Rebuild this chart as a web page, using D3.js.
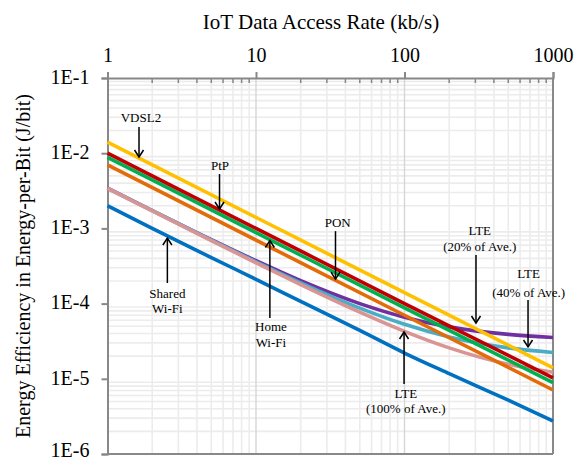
<!DOCTYPE html>
<html>
<head>
<meta charset="utf-8">
<script src="https://cdn.jsdelivr.net/npm/d3@7"></script>
<style>
  html, body { margin: 0; padding: 0; background: #fff; }
  svg { display: block; }
  text { font-family: "Liberation Serif", "DejaVu Serif", serif; fill: #000; }
</style>
</head>
<body>
<svg id="chart" width="577" height="461"></svg>
<script>
// ---------- data ----------
const xTickValues = [1, 10, 100, 1000];
const xTickLabels = ["1", "10", "100", "1000"];
const yTickValues = [1e-1, 1e-2, 1e-3, 1e-4, 1e-5, 1e-6];
const yTickLabels = ["1E-1", "1E-2", "1E-3", "1E-4", "1E-5", "1E-6"];

const ratesStraight = [1, 10, 100, 1000];
const vdsl2  = [1.40e-2, 1.40e-3, 1.40e-4, 1.40e-5];
const ptp    = [1.00e-2, 1.00e-3, 1.00e-4, 1.03e-5];
const homeWifi = [8.8e-3, 8.8e-4, 8.8e-5, 8.9e-6];
const pon    = [7.0e-3, 7.0e-4, 7.0e-5, 7.1e-6];

const ratesCurve = [1, 2, 5, 10, 20, 50, 100, 200, 500, 1000];
const lte20  = [3.43e-3, 1.73e-3, 7.1e-4, 3.72e-4, 2.02e-4, 1.0e-4, 6.6e-5, 4.9e-5, 3.9e-5, 3.55e-5];
const lte40  = [3.42e-3, 1.72e-3, 6.99e-4, 3.59e-4, 1.89e-4, 8.7e-5, 5.3e-5, 3.6e-5, 2.58e-5, 2.24e-5];
const lte100 = [3.41e-3, 1.71e-3, 6.89e-4, 3.49e-4, 1.79e-4, 7.7e-5, 4.28e-5, 2.58e-5, 1.56e-5, 1.22e-5];
const sharedWifi = [2.0e-3, 1.0e-3, 4.1e-4, 2.1e-4, 1.07e-4, 4.4e-5, 2.2e-5, 1.17e-5, 5.2e-6, 2.75e-6];

const seriesNames  = ["LTE 20%", "LTE 40%", "LTE 100%", "Shared Wi-Fi", "PON", "Home Wi-Fi", "PtP", "VDSL2"];
const seriesColors = ["#7030A0", "#4BACC6", "#D99594", "#0070C0", "#E36C09", "#00B050", "#C00000", "#FFC000"];

// annotations: arrow x (rate), tip value, tail value, label lines and baselines (values)
const annotations = [
  { rate: 1.63, labelRate: 1.68, tip: 8.9e-3, tail: 2.23e-2, lines: ["VDSL2"], base: [2.6e-2] },
  { rate: 5.68, labelRate: 5.72, tip: 1.81e-3, tail: 5.28e-3, lines: ["PtP"], base: [5.98e-3] },
  { rate: 34.3, labelRate: 35.5, tip: 2.12e-4, tail: 9.2e-4, lines: ["PON"], base: [1.03e-3] },
  { rate: 2.53, labelRate: 2.53, tip: 7.45e-4, tail: 1.88e-4, lines: ["Shared", "Wi-Fi"], base: [1.2e-4, 7.6e-5] },
  { rate: 12.4, labelRate: 12.6, tip: 6.9e-4, tail: 6.44e-5, lines: ["Home", "Wi-Fi"], base: [4.26e-5, 2.65e-5] },
  { rate: 303, labelRate: 321, tip: 5.52e-5, tail: 4.43e-4, lines: ["LTE", "(20% of Ave.)"], base: [8.05e-4, 5.08e-4] },
  { rate: 679, labelRate: 686, tip: 2.65e-5, tail: 1.12e-4, lines: ["LTE", "(40% of Ave.)"], base: [2.16e-4, 1.24e-4] },
  { rate: 99.3, labelRate: 102, tip: 4.19e-5, tail: 8.5e-6, lines: ["LTE", "(100% of Ave.)"], base: [5.64e-6, 3.56e-6] }
];

// ---------- chart ----------
const svg = d3.select("#chart");
const L = 107.5, R = 553, T = 78, B = 454;
const x = d3.scaleLog().domain([1, 1000]).range([L, R]);
const y = d3.scaleLog().domain([1e-6, 1e-1]).range([B, T]);

// minor values
const xMinor = [], yMinor = [];
for (let d = 1; d < 1000; d *= 10) for (let k = 2; k <= 9; k++) xMinor.push(d * k);
for (let d = 1e-6; d < 0.099; d *= 10) for (let k = 2; k <= 9; k++) yMinor.push(d * k);

const grid = svg.append("g");
grid.selectAll(".hm").data(yMinor).join("line")
  .attr("x1", L).attr("x2", R)
  .attr("y1", d => y(d)).attr("y2", d => y(d))
  .attr("stroke", "#ececec").attr("stroke-width", 1.6);
grid.selectAll(".vm").data(xMinor).join("line")
  .attr("y1", T).attr("y2", B)
  .attr("x1", d => x(d)).attr("x2", d => x(d))
  .attr("stroke", "#ececec").attr("stroke-width", 1.6);
grid.selectAll(".vM").data([10, 100]).join("line")
  .attr("y1", T).attr("y2", B)
  .attr("x1", d => x(d)).attr("x2", d => x(d))
  .attr("stroke", "#d6d6d6").attr("stroke-width", 1.4);

// axes
const topAxis = d3.axisTop(x).tickValues(xTickValues).tickFormat((d, i) => xTickLabels[i]).tickSize(6).tickPadding(6);
const gTop = svg.append("g").attr("transform", `translate(0,${T})`).call(topAxis);
gTop.select(".domain").attr("stroke", "#888").attr("stroke-width", 2);
gTop.selectAll(".tick line").attr("stroke", "#888").attr("stroke-width", 2);
gTop.selectAll(".tick text").attr("font-family", "Liberation Serif").attr("font-size", 20).attr("dy", "-0.2em");
svg.append("g").selectAll("line").data(xMinor).join("line")
  .attr("x1", d => x(d)).attr("x2", d => x(d))
  .attr("y1", T).attr("y2", T + 5)
  .attr("stroke", "#888").attr("stroke-width", 1.5);

const leftAxis = d3.axisLeft(y).tickValues(yTickValues).tickFormat((d, i) => yTickLabels[i]).tickSize(6).tickPadding(12);
const gLeft = svg.append("g").attr("transform", `translate(${L},0)`).call(leftAxis);
gLeft.select(".domain").attr("stroke", "#888").attr("stroke-width", 2);
gLeft.selectAll(".tick line").attr("stroke", "#888").attr("stroke-width", 2);
gLeft.selectAll(".tick text").attr("font-family", "Liberation Serif").attr("font-size", 20)
  .attr("dy", (d, i) => i === yTickValues.length - 1 ? "0.1em" : "0.26em");

svg.append("line").attr("x1", R).attr("x2", R).attr("y1", T).attr("y2", B)
  .attr("stroke", "#888").attr("stroke-width", 2);
svg.append("line").attr("x1", L).attr("x2", R).attr("y1", B).attr("y2", B)
  .attr("stroke", "#888").attr("stroke-width", 2);

// series
const seriesData = [
  [ratesCurve, lte20], [ratesCurve, lte40], [ratesCurve, lte100], [ratesCurve, sharedWifi],
  [ratesStraight, pon], [ratesStraight, homeWifi], [ratesStraight, ptp], [ratesStraight, vdsl2]
];
const line = d3.line().x(d => x(d[0])).y(d => y(d[1])).curve(d3.curveMonotoneX);
seriesData.forEach((s, i) => {
  const pts = s[0].map((r, j) => [r, s[1][j]]);
  svg.append("path").datum(pts)
    .attr("d", line)
    .attr("fill", "none")
    .attr("stroke", seriesColors[i])
    .attr("stroke-width", 3.6)
    .attr("stroke-linecap", "butt")
    .attr("data-name", seriesNames[i]);
});

// annotations
const ann = svg.append("g");
annotations.forEach(a => {
  const ax = x(a.rate), ty = y(a.tip), tl = y(a.tail);
  ann.append("line").attr("x1", ax).attr("x2", ax).attr("y1", tl).attr("y2", ty)
    .attr("stroke", "#000").attr("stroke-width", 1.5);
  const dir = ty > tl ? -1 : 1;
  ann.append("path")
    .attr("d", `M${ax - 4.5},${ty + dir * 7} L${ax},${ty} L${ax + 4.5},${ty + dir * 7}`)
    .attr("fill", "none").attr("stroke", "#000").attr("stroke-width", 1.5);
  a.lines.forEach((t, k) => {
    ann.append("text").attr("x", x(a.labelRate)).attr("y", y(a.base[k]))
      .attr("text-anchor", "middle").attr("font-size", 13)
      .attr("font-family", "Liberation Serif").text(t);
  });
});

// titles
svg.append("text").attr("x", 321).attr("y", 29).attr("text-anchor", "middle")
  .attr("font-size", 21).text("IoT Data Access Rate (kb/s)");
svg.append("text").attr("transform", `translate(30,${(T + B) / 2}) rotate(-90)`)
  .attr("text-anchor", "middle").attr("font-size", 20)
  .text("Energy Efficiency in Energy-per-Bit (J/bit)");
</script>
</body>
</html>
